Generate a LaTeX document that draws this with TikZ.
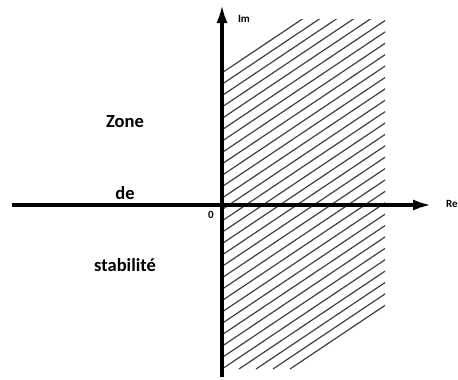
\documentclass[tikz,border=0pt]{standalone}
\usepackage{fontspec}
\setmainfont{Carlito}
\usetikzlibrary{arrows.meta}
\tikzset{
  axis/.style={line width=4pt, -{Latex[length=19pt,width=11pt]}},
  hatch/.style={line width=1.2pt, black!75},
  lbl/.style={font=\bfseries\fontsize{18.5}{22}\selectfont, inner sep=0pt},
  small/.style={font=\bfseries\fontsize{11}{13}\selectfont, inner sep=0pt}
}
\begin{document}
\begin{tikzpicture}[x=1pt,y=-1pt]
\useasboundingbox (0,0) rectangle (458,380);
% hatching
\begin{scope}
\clip (222,19) rectangle (385,369);
\foreach \k in {0,...,30} {
  \draw[hatch] ({290-17*\k},369) -- ({290-17*\k+700},{369-0.67*700});
}
\end{scope}
\coordinate (hl) at (12,205);
\coordinate (hr) at (432,205);
\coordinate (vb) at (222,377);
\coordinate (vt) at (222,4);
\draw[axis] (hl) -- (hr);
\draw[axis] (vb) -- (vt);
\node[small] (im) at (244,19) {Im};
\node[small, anchor=west] (re) at (446,204) {Re};
\node[small] (zero) at (211,215) {0};
\node[lbl] (zone) at (125,122) {Zone};
\node[lbl] (de) at (125,193) {de};
\node[lbl] (stab) at (125,265) {stabilité};
\end{tikzpicture}
\end{document}
